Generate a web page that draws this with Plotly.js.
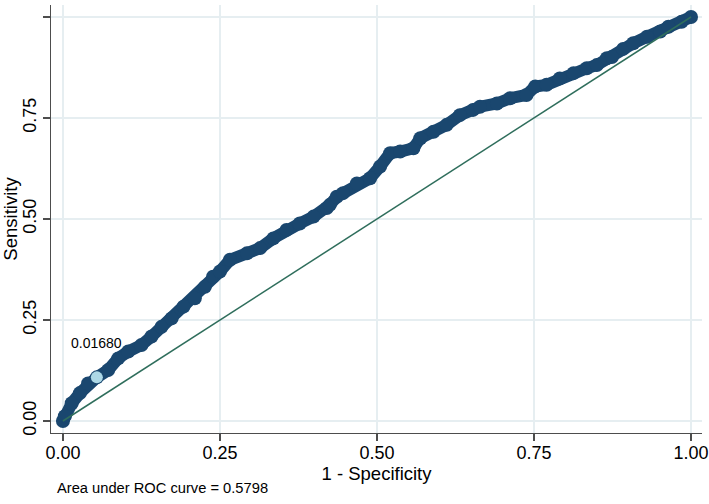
<!DOCTYPE html>
<html>
<head>
<meta charset="utf-8">
<script src="https://cdn.plot.ly/plotly-3.0.1.min.js"></script>
<style>html,body{margin:0;padding:0;background:#fff;}#chart{width:709px;height:504px;}</style>
</head>
<body>
<div id="chart"></div>
<script>
// 1 - Specificity (false positive rate)
const fpr = [0, 0.003, 0.014, 0.027, 0.040, 0.054, 0.072, 0.088, 0.104, 0.125,
  0.141, 0.157, 0.173, 0.192, 0.210, 0.226, 0.239, 0.250, 0.266, 0.293,
  0.314, 0.335, 0.356, 0.377, 0.399, 0.420, 0.425, 0.436, 0.446, 0.468,
  0.489, 0.505, 0.521, 0.537, 0.558, 0.569, 0.590, 0.611, 0.632, 0.653,
  0.664, 0.691, 0.712, 0.738, 0.752, 0.770, 0.791, 0.813, 0.834, 0.850,
  0.866, 0.874, 0.892, 0.908, 0.930, 0.951, 0.964, 0.985, 1.0];
// Sensitivity (true positive rate)
const tpr = [0, 0.012, 0.044, 0.069, 0.093, 0.108, 0.126, 0.155, 0.172, 0.188,
  0.209, 0.233, 0.254, 0.283, 0.304, 0.332, 0.357, 0.370, 0.399, 0.415,
  0.428, 0.452, 0.473, 0.489, 0.506, 0.527, 0.535, 0.555, 0.564, 0.588,
  0.601, 0.630, 0.663, 0.667, 0.675, 0.700, 0.716, 0.733, 0.757, 0.770,
  0.778, 0.786, 0.799, 0.807, 0.828, 0.832, 0.848, 0.861, 0.873, 0.881,
  0.898, 0.901, 0.921, 0.935, 0.951, 0.964, 0.976, 0.988, 1.0];
// Highlighted cutoff
const cutX = [0.054];
const cutY = [0.108];
const cutLabel = ["0.01680"];
// Reference line
const refX = [0, 1];
const refY = [0, 1];
const tickVals = [0, 0.25, 0.5, 0.75, 1];
const tickText = ["0.00", "0.25", "0.50", "0.75", "1.00"];
const aucText = "Area under ROC curve = 0.5798";
const xTitle = "1 - Specificity";
const yTitle = "Sensitivity";

const font = "Liberation Sans, Arial, Helvetica, sans-serif";
const navy = "#1a476f";

const traces = [
  {x: fpr, y: tpr, type: "scatter", mode: "lines+markers",
   line: {color: navy, width: 12},
   marker: {color: navy, size: 14, line: {width: 0}}, hoverinfo: "skip"},
  {x: refX, y: refY, type: "scatter", mode: "lines",
   line: {color: "#2f6e5c", width: 1.5}, hoverinfo: "skip"},
  {x: cutX, y: cutY, type: "scatter", mode: "markers",
   marker: {color: "#add8e6", size: 12, line: {width: 0}}, hoverinfo: "skip"}
];

const axisCommon = {
  showline: true, linecolor: "#4d4d4d", linewidth: 1.3,
  ticks: "outside", ticklen: 7, tickcolor: "#4d4d4d", tickwidth: 1.3,
  showgrid: true, gridcolor: "#e6eef1", gridwidth: 1.2,
  zeroline: false, tickvals: tickVals, ticktext: tickText,
  tickfont: {family: font, size: 18, color: "#000"}
};

const layout = {
  width: 709, height: 504,
  margin: {l: 51, r: 7, t: 5, b: 71},
  paper_bgcolor: "#fff", plot_bgcolor: "#fff",
  showlegend: false,
  font: {family: font, color: "#000"},
  xaxis: Object.assign({}, axisCommon, {
    range: [-0.019, 1.0175], ticklabelstandoff: -4,
    title: {text: xTitle, font: {family: font, size: 18.5, color: "#000"}, standoff: 1}
  }),
  yaxis: Object.assign({}, axisCommon, {
    range: [-0.0297, 1.0297], tickangle: -90,
    title: {text: yTitle, font: {family: font, size: 18.5, color: "#000"}, standoff: 4}
  }),
  annotations: [
    {x: cutX[0], y: cutY[0], xref: "x", yref: "y", text: cutLabel[0], showarrow: false,
     yshift: 34, font: {family: font, size: 14, color: "#000"}},
    {x: 0.006, y: -0.1285, xref: "paper", yref: "paper", xanchor: "left", yanchor: "middle",
     text: aucText, showarrow: false, font: {family: font, size: 14.7, color: "#000"}}
  ]
};

Plotly.newPlot("chart", traces, layout, {staticPlot: true, displayModeBar: false});
</script>
</body>
</html>
